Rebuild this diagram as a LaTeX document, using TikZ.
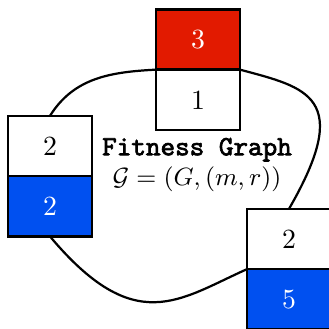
\documentclass[tikz,border=0pt]{standalone}
\usepackage{amsmath}
\usepackage{amssymb}
\usepackage{xcolor}
\usepackage{fontspec}
\usepackage{tikz}
\usetikzlibrary{positioning,backgrounds}

\newfontfamily\titlefont{Latin Modern Mono}[AutoFakeBold=2.5]
\definecolor{cellred}{RGB}{226,26,0}
\definecolor{cellblue}{RGB}{0,80,240}

\begin{document}
\begin{tikzpicture}[
    x=0.36pt,y=-0.36pt,
    node distance=0pt,
    cell/.style={draw,line width=0.9pt,minimum width=30.2pt,minimum height=21.7pt,
                 inner sep=0pt,outer sep=0pt,fill=white},
    hot/.style={cell,fill=cellred,text=white},
    cold/.style={cell,fill=cellblue,text=white},
    lbl/.style={align=center},
    edge/.style={line width=0.8pt}
  ]
  \useasboundingbox (0,0) rectangle (329,329);
  \node[hot] (tr) at (198,39.5) {3};
  \node[cell,below=of tr] (tw) {1};
  \node[cell] (lw) at (50,146) {2};
  \node[cold,below=of lw] (lb) {2};
  \node[cell] (rw) at (289,239) {2};
  \node[cold,below=of rw] (rb) {5};

  \node[lbl] (title) at (197,165) {{\titlefont\bfseries Fitness Graph}\\[-1pt]
        \fontsize{8.6}{10}\selectfont$\mathcal{G}=(G,(m,r))$};

  \begin{scope}[on background layer]
    \draw[edge] (tw.north west) to[out=183,in=58] (lw.north);
    \draw[edge] (lb.south) to[out=-50,in=204,out looseness=1.7,in looseness=0.95] (rw.south west);
    \draw[edge] (rw.north) to[out=60,in=-15,out looseness=2.25,in looseness=1.2] (tw.north east);
  \end{scope}
\end{tikzpicture}
\end{document}
